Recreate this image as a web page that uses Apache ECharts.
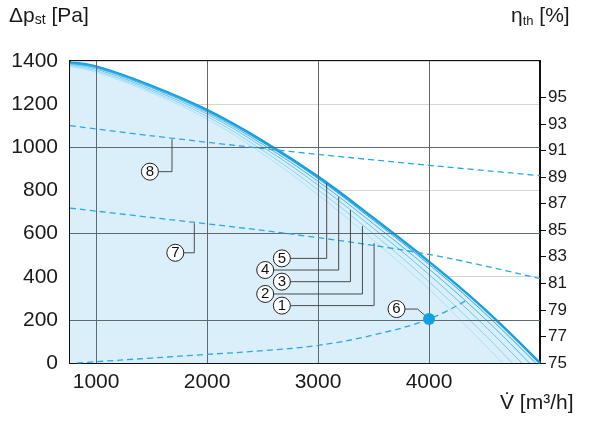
<!DOCTYPE html>
<html>
<head>
<meta charset="utf-8">
<script src="https://cdn.jsdelivr.net/npm/echarts@6/dist/echarts.min.js"></script>
<style>
    html, body { margin: 0; padding: 0; background: #fff; }
    #box { width: 600px; height: 424px; }
</style>
</head>
<body>
<div id="box"></div>
<script>
// volume flow points [m3/h]
var flow = [765, 1000, 1500, 2000, 2500, 3000, 3500, 4000, 4500];
// pressure curves [Pa], last point of each curve is (curveEnd, 0)
var pMax = [1392, 1375, 1285, 1173, 1030, 864, 672, 470, 250];
var p1 = [1374, 1348, 1252, 1131, 970, 780, 569, 342, 86];
var p2 = [1379, 1355, 1260, 1143, 986, 803, 598, 377, 132];
var p3 = [1384, 1362, 1268, 1154, 1002, 825, 624, 410, 173];
var p4 = [1388, 1368, 1276, 1162, 1014, 842, 645, 436, 207];
var p5 = [1391, 1372, 1281, 1168, 1023, 855, 661, 457, 232];
var curveEnd = [4660, 4750, 4835, 4905, 4960, 5000];

// efficiency lines (right axis) [%]
var effFlow8 = [765, 1500, 2292, 3000, 4000, 5000];
var eff8 = [92.87, 92.1, 91.34, 90.7, 89.88, 89.1];
var effFlow7 = [765, 1500, 2500, 3500, 4200, 5000];
var eff7 = [86.66, 85.95, 84.98, 83.85, 82.85, 81.35];

// system curve (6) [Pa]
var sysFlow = [830, 1000, 1500, 2000, 2500, 3000, 3500, 4000, 4360];
var sysP = [0, 6, 23, 40, 57, 82, 130, 204, 297];
var opPoint = [4000, 204];

// tick labels
var xTicks = [1000, 2000, 3000, 4000];
var darkRows = [200, 600, 1000];
var effTicks = [75, 77, 79, 81, 83, 85, 87, 89, 91, 93, 95];

// numbered tags with leaders (data coordinates)
var tagNames = ['1', '2', '3', '4', '5', '6', '7', '8'];
var tagX = [2674, 2524, 2674, 2524, 2674, 3707, 1714, 1485];
var tagY = [266, 320, 377, 431, 485, 250, 511, 887];
var bendX = [3505, 3400, 3292, 3186, 3078, 3897, 1885, 1684];
var endX = [3505, 3400, 3292, 3186, 3078, 4000, 1885, 1684];
var endY = [556, 635, 709, 770, 834, 204, 648, 1037];

var fontName = "'Liberation Sans', Arial, sans-serif";
var blue = '#1a9fe0';

function pairs(xs, ys) {
    var list = [];
    for (var i = 0; i < xs.length; i++) {
        list.push([xs[i], ys[i]]);
    }
    return list;
}

function curve(ys, end) {
    var list = pairs(flow, ys);
    list.push([end, 0]);
    return list;
}

function thinLine(name, ys, end, color) {
    return {
        name: name,
        type: 'line',
        data: curve(ys, end),
        smooth: 0.4,
        showSymbol: false,
        silent: true,
        z: 3,
        lineStyle: { color: color, width: 1 }
    };
}

function plain(v) {
    return String(v);
}

var series = [];

// dark grid lines over the fill
series.push({
    type: 'line',
    data: [],
    silent: true,
    z: 4,
    markLine: {
        symbol: 'none',
        silent: true,
        label: { show: false },
        lineStyle: { color: '#5f6a70', width: 1, type: 'solid' },
        data: xTicks.map(function (v) { return { xAxis: v }; })
            .concat(darkRows.map(function (v) { return { yAxis: v }; }))
    }
});

series.push({
    name: 'max',
    type: 'line',
    data: curve(pMax, curveEnd[5]),
    smooth: 0.4,
    showSymbol: false,
    silent: true,
    z: 2,
    lineStyle: { color: blue, width: 2.5 },
    areaStyle: { color: '#daeffa', opacity: 1, origin: 'start' }
});
series.push(thinLine('1', p1, curveEnd[0], '#ade0f6'));
series.push(thinLine('2', p2, curveEnd[1], '#8ad2f2'));
series.push(thinLine('3', p3, curveEnd[2], '#66c3ee'));
series.push(thinLine('4', p4, curveEnd[3], '#45b4ea'));
series.push(thinLine('5', p5, curveEnd[4], '#2aa8e5'));

var dash = { color: '#29a8e6', width: 1.3, type: [6, 4] };
series.push({
    name: '8', type: 'line', yAxisIndex: 1, data: pairs(effFlow8, eff8),
    smooth: 0.3, showSymbol: false, silent: true, z: 5, lineStyle: dash
});
series.push({
    name: '7', type: 'line', yAxisIndex: 1, data: pairs(effFlow7, eff7),
    smooth: 0.3, showSymbol: false, silent: true, z: 5, lineStyle: dash
});
series.push({
    name: '6', type: 'line', data: pairs(sysFlow, sysP),
    smooth: 0.4, showSymbol: false, silent: true, z: 5, lineStyle: dash
});

// leaders
for (var i = 0; i < tagNames.length; i++) {
    series.push({
        type: 'line',
        data: [[tagX[i], tagY[i]], [bendX[i], tagY[i]], [endX[i], endY[i]]],
        showSymbol: false,
        silent: true,
        z: 6,
        lineStyle: { color: '#4a4a4a', width: 1 }
    });
}

series.push({
    type: 'scatter',
    data: [opPoint],
    symbolSize: 12,
    silent: true,
    z: 8,
    itemStyle: { color: '#14a0e4', opacity: 1 }
});

series.push({
    type: 'scatter',
    data: tagNames.map(function (n, i) { return [tagX[i], tagY[i], n]; }),
    symbolSize: 17,
    silent: true,
    z: 9,
    itemStyle: { color: '#fff', borderColor: '#222', borderWidth: 1, opacity: 1 },
    label: {
        show: true,
        position: 'inside',
        formatter: function (p) { return p.value[2]; },
        color: '#111',
        fontFamily: fontName,
        fontSize: 15
    }
});

var myChart = echarts.init(document.getElementById('box'));
var option = {
    backgroundColor: '#fff',
    animation: false,
    grid: {
        left: 70, right: 60, top: 61, bottom: 61,
        show: true, borderColor: '#111', borderWidth: 2
    },
    xAxis: {
        type: 'value',
        min: 765,
        max: 5000,
        axisLine: { show: true, lineStyle: { color: '#111', width: 2 } },
        axisTick: { show: false },
        splitLine: { show: false },
        axisLabel: {
            customValues: xTicks,
            formatter: plain,
            color: '#1a1a1a', fontFamily: fontName, fontSize: 21, margin: 9
        }
    },
    yAxis: [{
        type: 'value',
        min: 0,
        max: 1400,
        interval: 200,
        axisLine: { show: true, lineStyle: { color: '#111', width: 2 } },
        axisTick: { show: false },
        splitLine: { show: true, lineStyle: { color: '#d6d6d6', width: 1 } },
        axisLabel: { formatter: plain, color: '#1a1a1a', fontFamily: fontName, fontSize: 21, margin: 12 }
    }, {
        type: 'value',
        position: 'right',
        min: 75,
        max: 97.73,
        axisLine: { show: true, lineStyle: { color: '#111', width: 2 } },
        axisTick: { show: true, customValues: effTicks, length: 6, inside: false, lineStyle: { color: '#111', width: 1 } },
        splitLine: { show: false },
        axisLabel: {
            customValues: effTicks,
            formatter: plain,
            color: '#1a1a1a', fontFamily: fontName, fontSize: 17, margin: 8
        }
    }],
    graphic: [{
        type: 'text', left: 9, top: 6,
        style: {
            text: '{a|Δp}{b|st}{a| [Pa]}',
            rich: {
                a: { fontSize: 21, fontFamily: fontName, fill: '#1a1a1a' },
                b: { fontSize: 14, fontFamily: fontName, fill: '#1a1a1a', verticalAlign: 'bottom' }
            }
        }
    }, {
        type: 'text', left: 511, top: 6,
        style: {
            text: '{a|η}{b|th}{a| [%]}',
            rich: {
                a: { fontSize: 21, fontFamily: fontName, fill: '#1a1a1a' },
                b: { fontSize: 13, fontFamily: fontName, fill: '#1a1a1a', padding: [10, 0, 0, 0] }
            }
        }
    }, {
        type: 'text', left: 500, top: 393,
        style: {
            text: 'V\u0307 [m\u00b3/h]',
            fontSize: 21, fontFamily: fontName, fill: '#1a1a1a'
        }
    }],
    series: series
};
myChart.setOption(option);
</script>
</body>
</html>
